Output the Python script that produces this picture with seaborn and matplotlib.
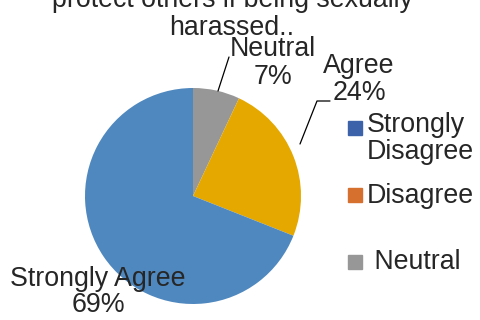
import seaborn as sns
import matplotlib.pyplot as plt
from matplotlib.patches import Rectangle

categories = ["Strongly Disagree", "Disagree", "Neutral", "Agree", "Strongly Agree"]
values = [0, 0, 7, 24, 69]
pie_colors = ["#3C62AA", "#D5702F", "#979797", "#E5A800", "#4F88BF"]
legend_labels = ["Strongly\nDisagree", "Disagree", " Neutral"]
legend_colors = ["#3C62AA", "#D5702F", "#979797"]

sns.set_theme(style="white")
plt.rcParams['font.family'] = ['Liberation Sans', 'DejaVu Sans']

fig = plt.figure(figsize=(4.81, 3.2), dpi=100)
# pie centre at (193,196) px, radius 108 px
ax = fig.add_axes([(193 - 108) / 481, (124 - 108) / 320, 216 / 481, 216 / 320])
wedges, _ = ax.pie(values, colors=pie_colors, startangle=90, counterclock=False,
                   radius=1, wedgeprops=dict(linewidth=0))
ax.set_xlim(-1, 1)
ax.set_ylim(-1, 1)
ax.axis("off")

fs = 19.3


def px(x, y):
    # pixel position -> pie data coords
    return ((x - 193) / 108, (196 - y) / 108)


# data labels
ax.text(*px(273, 63), f"{categories[2]}\n{values[2]}%", ha="center", va="center",
        fontsize=fs, linespacing=1.05, clip_on=False)
ax.plot(*zip(px(218, 91), px(229, 57)), color="black", lw=0.9, clip_on=False)

ax.text(*px(359, 80), f"{categories[3]}\n{values[3]}%", ha="center", va="center",
        fontsize=fs, linespacing=1.05, clip_on=False)
ax.plot(*zip(px(300, 144), px(317, 101), px(330, 101)), color="black", lw=0.9, clip_on=False)

ax.text(*px(98, 292), f"{categories[4]}\n{values[4]}%", ha="center", va="center",
        fontsize=fs, linespacing=1.05, clip_on=False)

# title (top part cut off in the original)
fig.text(232 / 481, 1 - 41 / 320, "protect others if being sexually\nharassed..",
         ha="center", va="bottom", fontsize=fs, linespacing=1.1)

# legend
sq_y = [127.5, 195, 261.5]
for col, cy in zip(legend_colors, sq_y):
    fig.patches.append(Rectangle((348 / 481, 1 - (cy + 7) / 320), 14 / 481, 14 / 320,
                                 transform=fig.transFigure, color=col))

fig.text(367 / 481, 1 - 112 / 320, legend_labels[0], ha="left", va="top", fontsize=fs, linespacing=1.05)
fig.text(367 / 481, 1 - 196 / 320, legend_labels[1], ha="left", va="center", fontsize=fs)
fig.text(367 / 481, 1 - 262 / 320, legend_labels[2], ha="left", va="center", fontsize=fs)

fig.savefig("out.png", dpi=100)
